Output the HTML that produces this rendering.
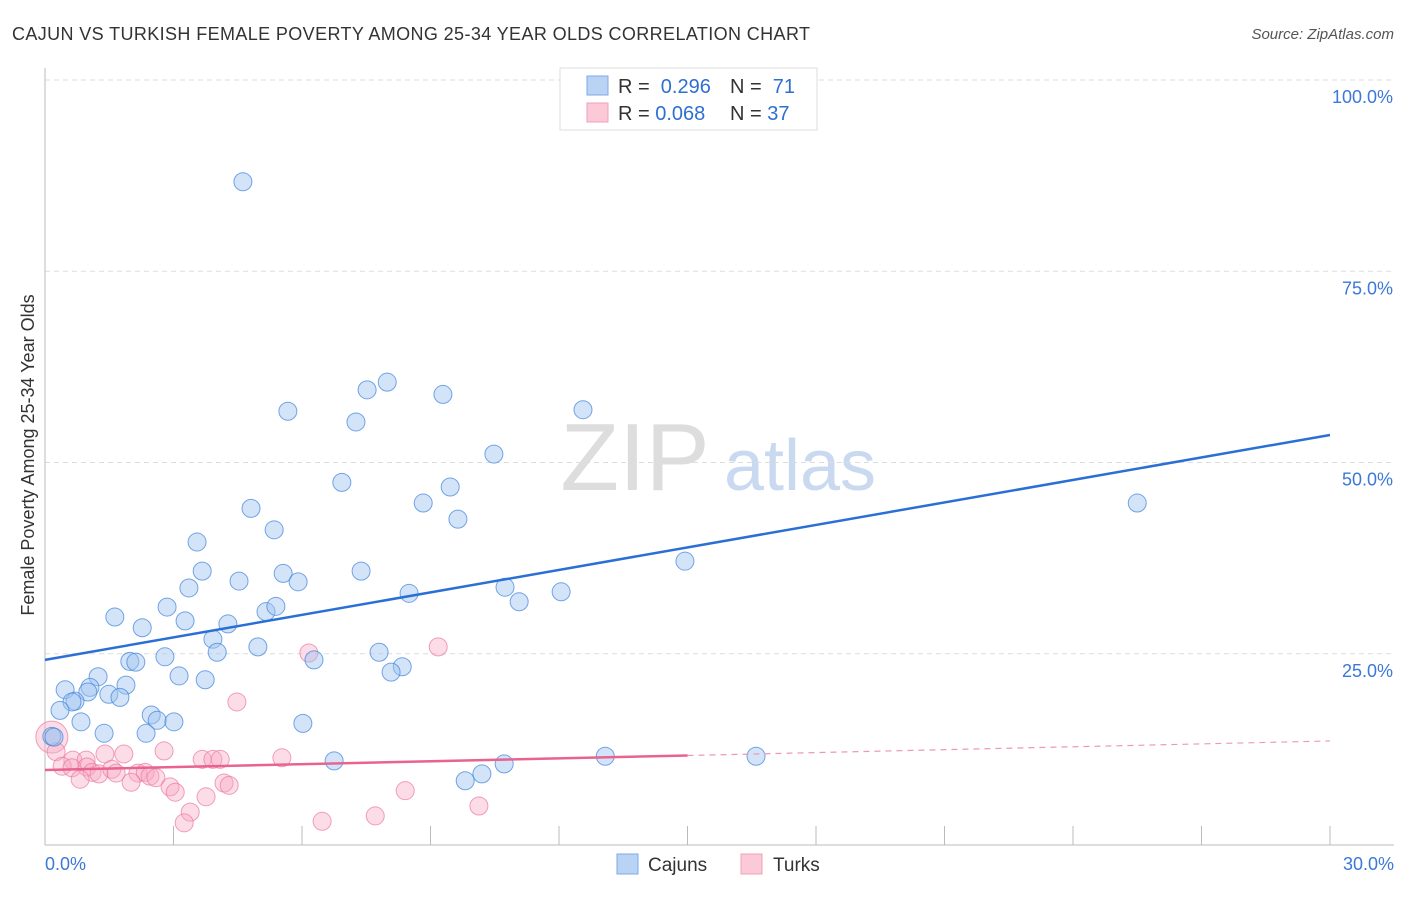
<!DOCTYPE html>
<html><head><meta charset="utf-8"><style>
body{margin:0;background:#fff;width:1406px;height:892px;overflow:hidden;font-family:"Liberation Sans",sans-serif}
svg text{font-family:"Liberation Sans",sans-serif}
</style></head><body>
<svg id="c" width="1406" height="892">
<text x="12" y="40" font-size="18" fill="#333" textLength="798">CAJUN VS TURKISH FEMALE POVERTY AMONG 25-34 YEAR OLDS CORRELATION CHART</text>
<text x="1394" y="39" font-size="15" fill="#555" font-style="italic" text-anchor="end">Source: ZipAtlas.com</text>
<text x="635" y="490" font-size="96" fill="#ddd" font-family="Liberation Serif" text-anchor="middle">ZIP</text>
<text x="800" y="490" font-size="72" fill="#c9d9f0" text-anchor="middle">atlas</text>
<text transform="translate(34,455) rotate(-90)" font-size="18" fill="#333" text-anchor="middle">Female Poverty Among 25-34 Year Olds</text>
<g id="grid"></g><g id="marks"></g>
<g>
<rect x="560" y="68" width="257" height="62" fill="#fff" stroke="#ddd"/>
<rect x="587" y="76" width="21" height="19" fill="#b9d3f5" stroke="#7fa9e6"/>
<rect x="587" y="103" width="21" height="19" fill="#fbc9d8" stroke="#f0a0b8"/>
<text x="618" y="93" font-size="20" fill="#333">R = <tspan fill="#2f6fd0">&#160;0.296</tspan></text>
<text x="730" y="93" font-size="20" fill="#333">N = <tspan fill="#2f6fd0">&#160;71</tspan></text>
<text x="618" y="120" font-size="20" fill="#333">R = <tspan fill="#2f6fd0">0.068</tspan></text>
<text x="730" y="120" font-size="20" fill="#333">N = <tspan fill="#2f6fd0">37</tspan></text>
</g>
<g>
<rect x="617" y="854" width="21" height="20" fill="#b9d3f5" stroke="#7fa9e6"/>
<text x="648" y="871" font-size="19" fill="#333">Cajuns</text>
<rect x="741" y="854" width="21" height="20" fill="#fbc9d8" stroke="#f0a0b8"/>
<text x="773" y="871" font-size="19" fill="#333">Turks</text>
</g>
</svg>
<script>
const cajunX=[4.62,5.67,7.26,7.52,7.99,9.29,12.56,10.48,6.93,9.46,8.83,9.64,4.81,5.35,3.55,25.5,14.94,3.67,4.53,5.56,5.91,7.38,3.36,8.50,10.74,12.05,11.07,2.85,5.16,5.39,1.63,3.27,4.27,2.27,3.92,4.97,4.02,2.80,1.98,2.12,7.80,6.28,8.34,8.08,3.13,1.24,3.74,1.89,1.05,0.47,1.00,1.49,1.75,0.70,0.63,0.35,2.48,2.62,3.01,0.84,6.02,2.36,1.38,0.16,0.21,13.08,16.6,6.75,10.72,10.20,9.81];
const cajunY=[86.7,56.7,55.3,59.5,60.5,58.9,56.9,51.1,47.4,46.8,44.7,42.6,44.0,41.2,39.6,44.7,37.1,35.8,34.5,35.5,34.4,35.8,33.6,32.9,33.7,33.1,31.8,31.1,30.5,31.2,29.8,29.3,28.9,28.4,26.9,25.9,25.2,24.6,24.0,23.9,25.2,24.2,23.3,22.6,22.1,22.0,21.6,20.9,20.6,20.3,20.0,19.7,19.3,18.8,18.7,17.6,17.0,16.3,16.1,16.1,15.9,14.6,14.6,14.2,14.1,11.6,11.6,11.0,10.6,9.3,8.4];
const turkX=[9.18,6.16,4.48,2.78,1.84,1.40,0.16,0.26,0.65,0.96,3.67,3.92,4.09,5.53,0.40,0.63,0.98,1.10,1.26,1.56,1.66,2.17,2.34,2.45,2.59,0.82,2.01,2.92,3.04,4.18,4.30,3.76,8.41,3.39,3.25,6.47,7.71,10.13];
const turkY=[25.9,25.1,18.7,12.3,11.9,11.9,14.1,12.2,11.1,11.1,11.2,11.2,11.2,11.4,10.3,10.1,10.2,9.5,9.3,9.9,9.4,9.4,9.5,9.0,8.8,8.6,8.2,7.6,6.9,8.1,7.8,6.3,7.1,4.3,2.9,3.1,3.8,5.1];
const cajunTrend=[24.2,53.6];
const turkTrend=[9.8,13.6];
const yTicks=[25,50,75,100];
const xTickLabels=["0.0%","30.0%"];
const sx=v=>45+v/30*1285, sy=v=>845-v*7.65;
const NS="http://www.w3.org/2000/svg";
function mk(t,a,p){const e=document.createElementNS(NS,t);for(const k in a)e.setAttribute(k,a[k]);p.appendChild(e);return e;}
const g=document.getElementById('grid'), m=document.getElementById('marks');
yTicks.forEach(t=>{
 const l=mk('line',{x1:45,x2:1394,y1:sy(t),y2:sy(t),stroke:'#ddd','stroke-dasharray':'5,4'},g);
 
 
 const tx=mk('text',{x:1393,y:sy(t)+23,'font-size':18,fill:'#3b78d8','text-anchor':'end'},g);
 tx.textContent=t.toFixed(1)+'%';
 
 
});
const ax=mk('line',{x1:45,x2:45,y1:68,y2:845,stroke:'#bbb'},g);


const bx=mk('line',{x1:45,x2:1394,y1:845,y2:845,stroke:'#bbb'},g);


for(let i=1;i<=10;i++){const t=mk('line',{x1:sx(i*3),x2:sx(i*3),y1:826,y2:845,stroke:'#bbb'},g);
 
 }
[[0,'start',45],[30,'end',1394]].forEach((d,i)=>{const t=mk('text',{x:d[2],y:870,'font-size':18,fill:'#3b78d8','text-anchor':d[1]},g);t.textContent=xTickLabels[i];
 
 });
turkX.forEach((x,i)=>{const c=mk('circle',{cx:sx(x),cy:sy(turkY[i]),r:i==6?16:9,fill:'rgba(248,170,195,0.4)',stroke:'rgba(235,120,160,0.7)','stroke-width':1},m);
 
 });
cajunX.forEach((x,i)=>{const c=mk('circle',{cx:sx(x),cy:sy(cajunY[i]),r:9,fill:'rgba(160,195,240,0.45)',stroke:'rgba(60,130,220,0.7)','stroke-width':1},m);
 
 });
const bl=mk('line',{x1:sx(0),y1:sy(cajunTrend[0]),x2:sx(30),y2:sy(cajunTrend[1]),stroke:'#2a6fd6','stroke-width':2.5},m);


const tm=turkTrend[0]+(turkTrend[1]-turkTrend[0])*0.5;
const pl=mk('line',{x1:sx(0),y1:sy(turkTrend[0]),x2:sx(15),y2:sy(tm),stroke:'#e8638e','stroke-width':2.5},m);


const pd=mk('line',{x1:sx(15),y1:sy(tm),x2:sx(30),y2:sy(turkTrend[1]),stroke:'#eb9ab4','stroke-width':1.2,'stroke-dasharray':'6,5'},m);


</script>
</body></html>
